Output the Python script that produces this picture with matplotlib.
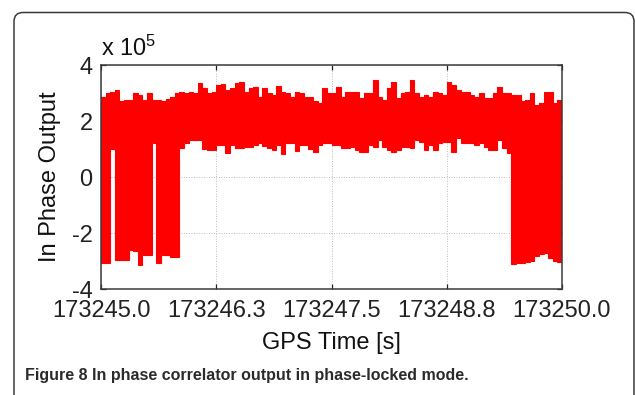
import numpy as np
import matplotlib
matplotlib.use("Agg")
import matplotlib.pyplot as plt
from matplotlib.patches import FancyBboxPatch
from matplotlib.ticker import FuncFormatter

plt.rcParams['font.family'] = ['Liberation Sans', 'DejaVu Sans']
plt.rcParams['mathtext.default'] = 'regular'

# correlator output, summarised per 0.05 s block as max / min (units of 1e5)
t_start = 173245.0
block_len = 0.05
upper = [2.87, 3.00, 3.05, 3.10, 2.70, 2.75, 2.75, 3.00, 2.93, 2.75,
         3.00, 2.75, 2.75, 2.70, 2.80, 2.87, 3.00, 3.05, 3.00, 3.05,
         3.00, 3.35, 3.17, 3.00, 3.05, 3.29, 3.32, 3.11, 3.17, 3.35,
         3.40, 3.05, 3.17, 3.23, 2.85, 3.17, 3.00, 2.93, 3.25, 3.05,
         3.00, 2.85, 3.05, 3.00, 2.87, 2.87, 2.70, 2.63, 3.17, 3.00,
         3.00, 3.23, 2.87, 3.05, 3.05, 3.05, 2.81, 3.00, 3.00, 3.46,
         2.87, 2.75, 3.17, 3.40, 2.81, 3.00, 3.05, 3.46, 3.00, 2.87,
         2.93, 2.87, 3.05, 3.00, 2.93, 3.40, 3.29, 3.11, 3.05, 3.02,
         2.93, 2.87, 3.00, 2.81, 2.81, 3.00, 3.23, 3.00, 3.00, 2.93,
         2.93, 2.70, 2.75, 3.00, 2.58, 2.63, 3.05, 3.05, 2.63, 2.75]
lower = [-3.07, -3.07, 1.00, -2.96, -2.96, -2.96, -2.60, -2.65, -3.14, -2.80,
         -2.80, 1.20, -3.07, -2.80, -2.80, -2.85, -2.85, 1.05, 1.20, 1.32,
         1.32, 1.32, 0.99, 0.96, 0.96, 1.14, 1.14, 0.85, 1.14, 1.02,
         1.02, 1.08, 1.08, 1.14, 1.20, 1.10, 1.02, 0.96, 1.14, 0.82,
         1.20, 1.20, 0.94, 1.14, 1.14, 1.00, 0.90, 1.14, 1.20, 1.20,
         1.14, 1.14, 1.02, 1.02, 1.08, 0.96, 0.90, 0.90, 1.14, 1.08,
         1.32, 1.08, 0.96, 0.90, 0.96, 1.08, 1.08, 1.02, 1.32, 1.26,
         0.96, 1.14, 0.96, 1.20, 1.26, 1.26, 0.90, 1.38, 1.20, 1.20,
         1.20, 1.14, 1.20, 1.08, 0.96, 0.96, 1.32, 1.02, 0.85, -3.12,
         -3.07, -3.07, -3.03, -3.00, -2.82, -2.75, -2.73, -2.90, -3.00, -3.05]

x_ticks = [173245.0, 173246.25, 173247.5, 173248.75, 173250.0]
x_tick_labels = ['173245.0', '173246.3', '173247.5', '173248.8', '173250.0']
y_ticks = [-4e5, -2e5, 0, 2e5, 4e5]

caption_head = 'Figure 8'
caption_body = 'In phase correlator output in phase-locked mode.'

hi = np.array(upper) * 1e5
lo = np.array(lower) * 1e5
edges = t_start + block_len * np.arange(len(upper) + 1)

fig = plt.figure(figsize=(6.35, 3.95), dpi=100)

# rounded frame around figure + caption
frame = FancyBboxPatch((0.14, -0.2), 6.20, 4.025,
                       boxstyle="round,pad=0,rounding_size=0.09",
                       transform=fig.dpi_scale_trans, facecolor='none',
                       edgecolor='#3a3a3a', linewidth=1.1, clip_on=False)
fig.add_artist(frame)

ax = fig.add_axes([101 / 635, 1 - 289 / 395, 461 / 635, 224 / 395])
ax.stairs(hi, edges, baseline=lo, fill=True, color='#ff0000', linewidth=0)
ax.stairs(hi, edges, baseline=lo, fill=False, color='#ff0000', linewidth=0.8)

ax.set_xlim(x_ticks[0], x_ticks[-1])
ax.set_ylim(-4e5, 4e5)
ax.set_xticks(x_ticks)
ax.set_xticklabels(x_tick_labels)
ax.set_yticks(y_ticks)
ax.yaxis.set_major_formatter(FuncFormatter(lambda v, p: '%d' % round(v / 1e5)))

ax.set_axisbelow(True)
ax.grid(True, color='#a8a8a8', linestyle=(0, (1, 2)), linewidth=0.6)
ax.tick_params(direction='in', length=3.5, width=0.9, top=True, right=True,
               labelsize=17, colors='#222222')
ax.tick_params(axis='x', pad=8)
ax.tick_params(axis='y', pad=6)
for s in ax.spines.values():
    s.set_color('#3a3a3a')
    s.set_linewidth(1.1)

ax.set_xlabel('GPS Time [s]', fontsize=17, labelpad=7, color='#111111')
ax.set_ylabel('In Phase Output', fontsize=17, labelpad=8, color='#111111')
ax.text(0.0, 1.02, 'x 10$^{5}$', transform=ax.transAxes, fontsize=17,
        ha='left', va='bottom', color='#111111')

# caption below the plot, bold label then title
cap_y = 1 - 380 / 395
head = fig.text(25 / 635, cap_y, caption_head, fontsize=11.5, fontweight='bold',
                color='#2b2b2b', ha='left', va='baseline')
body = fig.text(0, cap_y, caption_body, fontsize=11.5, fontweight='bold',
                color='#2b2b2b', ha='left', va='baseline')
renderer = fig.canvas.get_renderer()
w_head = head.get_window_extent(renderer).width
body.set_x((25 + w_head + 5) / 635)

fig.savefig('out.png', dpi=100)
